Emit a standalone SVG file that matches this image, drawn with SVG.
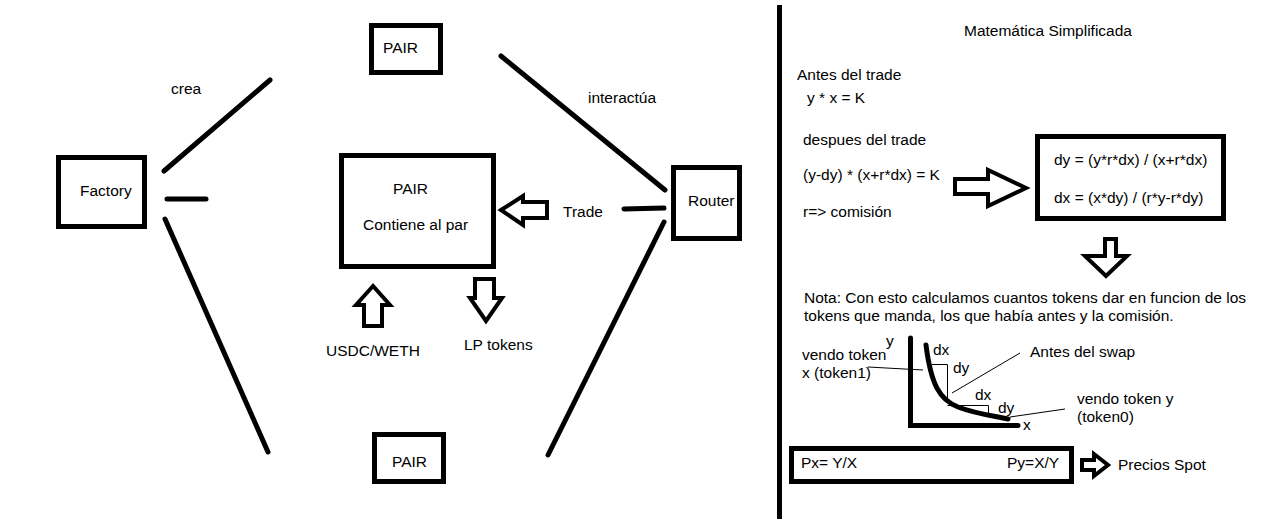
<svg xmlns="http://www.w3.org/2000/svg" width="1278" height="519" viewBox="0 0 1278 519">
<style>
text{font-family:"Liberation Sans",Arial,sans-serif;font-size:15.5px;fill:#000}
.box{fill:#fff;stroke:#000;stroke-width:5}
.ln{stroke:#000;stroke-width:5;stroke-linecap:round;fill:none}
.thin{stroke:#000;stroke-width:1;fill:none}
.arr{fill:#fff;stroke:#000;stroke-width:4;stroke-linejoin:miter}
</style>
<rect width="1278" height="519" fill="#fff"/>
<g id="connectors">
<line class="ln" x1="164" y1="171" x2="270" y2="80"/>
<line class="ln" x1="167" y1="199" x2="206" y2="199"/>
<line class="ln" x1="165" y1="219" x2="268" y2="452"/>
<line class="ln" x1="501" y1="56" x2="665" y2="190"/>
<line class="ln" x1="624" y1="209" x2="664" y2="208"/>
<line class="ln" x1="664" y1="222" x2="548" y2="455"/>
<polygon class="arr" points="501,210 523,196 523,202 547,202 547,218 523,218 523,225"/>
<polygon class="arr" points="373,286 356,305 364,305 364,326 382,326 382,305 390,305"/>
<polygon class="arr" points="475,279 494,279 494,298 502,298 486,321 470,298 475,298"/>
</g>
<g id="labels">
<text x="171" y="94">crea</text>
<text x="588" y="103">interactúa</text>
<text x="563" y="217">Trade</text>
<text x="326" y="356">USDC/WETH</text>
<text x="464" y="350">LP tokens</text>
</g>
<g id="factory"><rect class="box" x="58.5" y="157.5" width="86" height="69"/><text x="80" y="196">Factory</text></g>
<g id="pair-top"><rect class="box" x="371.5" y="25.5" width="69" height="47"/><text x="383" y="53">PAIR</text></g>
<g id="pair-main"><rect class="box" x="341.5" y="155.5" width="152" height="111"/><text x="393" y="194">PAIR</text><text x="363" y="230">Contiene al par</text></g>
<g id="pair-bottom"><rect class="box" x="374.5" y="434.5" width="69" height="47"/><text x="392" y="467">PAIR</text></g>
<g id="router"><rect class="box" x="673.5" y="167.5" width="66" height="71"/><text x="688" y="206">Router</text></g>
<g id="divider"><rect x="777" y="5" width="5" height="514" fill="#000"/></g>
<g id="math">
<text x="964" y="36">Matemática Simplificada</text>
<text x="797" y="80">Antes del trade</text>
<text x="807" y="103">y * x = K</text>
<text x="803" y="145">despues del trade</text>
<text x="803" y="180">(y-dy) * (x+r*dx) = K</text>
<text x="803" y="217">r=&gt; comisión</text>
<polygon class="arr" points="955,179 988,179 988,170 1026,188 988,206 988,194 955,194"/>
<g id="formulas"><rect class="box" x="1037.5" y="136.5" width="186" height="82"/>
<text x="1054" y="165">dy = (y*r*dx) / (x+r*dx)</text>
<text x="1054" y="203">dx = (x*dy) / (r*y-r*dy)</text></g>
<polygon class="arr" points="1105,239 1116,239 1116,256 1127,256 1106,276 1085,256 1105,256"/>
<text x="804" y="303">Nota: Con esto calculamos cuantos tokens dar en funcion de los</text>
<text x="804" y="321">tokens que manda, los que había antes y la comisión.</text>
</g>
<g id="graph">
<path class="ln" d="M910.5,338 V425.5 H1018" stroke-linecap="butt"/>
<path class="ln" d="M926,345 C931,385 940,400 958,407 S995,416 1008,419"/>
<path class="thin" d="M932,364.5 H947.5 V402 M947.5,405.5 H988.5 V417"/>
<line class="thin" x1="868" y1="367" x2="923" y2="370"/>
<line class="thin" x1="952" y1="393" x2="1020" y2="353"/>
<line class="thin" x1="1010" y1="417" x2="1065" y2="409"/>
<text x="886" y="346">y</text>
<text x="1023" y="430">x</text>
<text x="933" y="355">dx</text>
<text x="953" y="373">dy</text>
<text x="975" y="400">dx</text>
<text x="998" y="413">dy</text>
<text x="802" y="360">vendo token</text>
<text x="802" y="378">x (token1)</text>
<text x="1030" y="357">Antes del swap</text>
<text x="1077" y="404">vendo token y</text>
<text x="1077" y="422">(token0)</text>
</g>
<g id="spot">
<rect class="box" x="791.5" y="448.5" width="280" height="33"/>
<text x="801" y="468">Px= Y/X</text>
<text x="1007" y="468">Py=X/Y</text>
<polygon class="arr" points="1082,460 1094,460 1094,454 1108,465 1094,476 1094,470 1082,470"/>
<text x="1118" y="470">Precios Spot</text>
</g>
</svg>
